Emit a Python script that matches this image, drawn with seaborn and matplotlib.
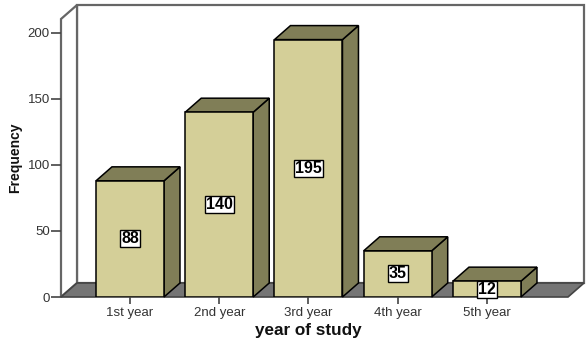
import numpy as np
import matplotlib
matplotlib.use("Agg")
import matplotlib.pyplot as plt
from matplotlib.patches import Polygon
import seaborn as sns

# ----------------------
# DATA
# ----------------------
years = ["1st year", "2nd year", "3rd year", "4th year", "5th year"]
counts = [88, 140, 195, 35, 12]
y_ticks = [0, 50, 100, 150, 200]

face_col = "#D4CF98"
shade_col = "#807E57"
floor_col = "#757575"
wall_edge = "#666666"

sns.set_theme(style="white")
plt.rcParams["font.family"] = ["Liberation Sans", "DejaVu Sans"]

W, H = 587, 345
fig = plt.figure(figsize=(W / 100, H / 100), dpi=100)
ax = fig.add_axes([61 / W, 48 / H, (568 - 61) / W, 278 / H])

xlim = (-0.773, 4.908)
ylim = (0, 210.6)

# depth offset of the fake 3d (pixels -> data units)
ppx = (568 - 61) / (xlim[1] - xlim[0])
ppy = 278 / (ylim[1] - ylim[0])
dx = 16 / ppx
dy = 14 / ppy

x0, x1 = xlim
yt = ylim[1]

# back wall, left wall, floor
ax.add_patch(Polygon([(x0 + dx, dy), (x1 + dx, dy), (x1 + dx, yt + dy), (x0 + dx, yt + dy)],
                     closed=True, fc="white", ec=wall_edge, lw=1.6, clip_on=False, zorder=0.1))
ax.add_patch(Polygon([(x0, 0), (x0, yt), (x0 + dx, yt + dy), (x0 + dx, dy)],
                     closed=True, fc="white", ec=wall_edge, lw=1.6, clip_on=False, zorder=0.2))
ax.add_patch(Polygon([(x0, 0), (x1, 0), (x1 + dx, dy), (x0 + dx, dy)],
                     closed=True, fc=floor_col, ec="#444444", lw=1.2, clip_on=False, zorder=0.3))

# ----------------------
# BARS
# ----------------------
bw = 68 / ppx
sns.barplot(x=years, y=counts, color=face_col, saturation=1, width=bw,
            edgecolor="black", linewidth=1.1, ax=ax, zorder=2)

bars = ax.containers[0]
for p, v in zip(bars, counts):
    bx, bh, w = p.get_x(), p.get_height(), p.get_width()
    side = [(bx + w, 0), (bx + w + dx, dy), (bx + w + dx, bh + dy), (bx + w, bh)]
    top = [(bx, bh), (bx + w, bh), (bx + w + dx, bh + dy), (bx + dx, bh + dy)]
    ax.add_patch(Polygon(side, closed=True, fc=shade_col, ec="black", lw=1.1, zorder=1.5, clip_on=False))
    ax.add_patch(Polygon(top, closed=True, fc=shade_col, ec="black", lw=1.1, zorder=1.5, clip_on=False))
    ax.text(bx + w / 2, bh / 2, str(v), ha="center", va="center", fontsize=11.5,
            fontweight="bold", color="black", zorder=5,
            bbox=dict(boxstyle="square,pad=0.06", fc="white", ec="black", lw=1))

ax.set_xlim(*xlim)
ax.set_ylim(*ylim)
ax.set_yticks(y_ticks)
ax.set_xticks(range(len(years)))
ax.set_xticklabels(years)
for s in ax.spines.values():
    s.set_visible(False)
ax.patch.set_alpha(0)
ax.tick_params(axis="both", which="both", direction="out", width=1.2,
               color="#444444", labelcolor="#333333", labelsize=9.5)
ax.tick_params(axis="y", left=True, length=7, pad=1)
ax.tick_params(axis="x", bottom=True, length=5, pad=2)
ax.set_xlabel("")
ax.set_ylabel("")

fig.text(15 / W, (H - 158) / H, "Frequency", rotation=90, ha="center", va="center",
         fontsize=10, fontweight="bold", color="#111111")
fig.text(308 / W, (H - 330) / H, "year of study", ha="center", va="center",
         fontsize=12.3, fontweight="bold", color="#111111")

fig.savefig("out.png", dpi=100)
